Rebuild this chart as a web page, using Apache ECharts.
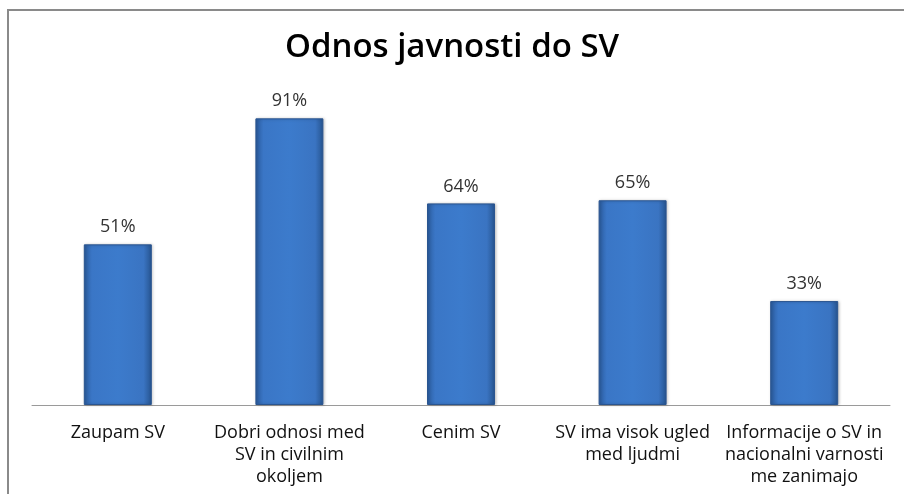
<!DOCTYPE html>
<html lang="sl">

<head>
    <meta charset="UTF-8">
    <title>Odnos javnosti do SV</title>
    <script src="https://cdn.jsdelivr.net/npm/echarts@6/dist/echarts.min.js"></script>
    <style>
        * {
            margin: 0;
            padding: 0;
        }
        body {
            background-color: #fff;
        }
        #box1 {
            width: 904px;
            height: 494px;
        }
    </style>
</head>

<body>
    <div id="box1"></div>
    <script>
        // podatki
        var categories = [
            'Zaupam SV',
            'Dobri odnosi med\nSV in civilnim\nokoljem',
            'Cenim SV',
            'SV ima visok ugled\nmed ljudmi',
            'Informacije o SV in\nnacionalni varnosti\nme zanimajo'
        ];
        var values = [51, 91, 64, 65, 33];

        var barColor = new echarts.graphic.LinearGradient(0, 0, 1, 0, [
            { offset: 0, color: '#2b5c9e' },
            { offset: 0.12, color: '#3a76c6' },
            { offset: 0.5, color: '#3c7bcc' },
            { offset: 0.88, color: '#3a74c2' },
            { offset: 1, color: '#26548f' }
        ]);

        var option = {
            animation: false,
            title: {
                text: 'Odnos javnosti do SV',
                left: 'center',
                top: 26,
                textStyle: {
                    fontFamily: 'Open Sans',
                    fontWeight: 600,
                    fontSize: 33,
                    color: '#000'
                }
            },
            graphic: [{
                type: 'rect',
                shape: { x: 8, y: 10, width: 1000, height: 1000 },
                style: { fill: 'none', stroke: '#8a8a8a', lineWidth: 2 },
                silent: true
            }],
            grid: {
                left: 32,
                right: 14,
                top: 90,
                bottom: 89
            },
            xAxis: {
                type: 'category',
                data: categories,
                axisLine: { lineStyle: { color: '#9a9a9a', width: 1 } },
                axisTick: { show: false },
                axisLabel: {
                    interval: 0,
                    margin: 17,
                    fontFamily: 'Open Sans',
                    fontSize: 18,
                    lineHeight: 22,
                    color: '#111'
                }
            },
            yAxis: {
                type: 'value',
                min: 0,
                max: 100,
                show: false
            },
            series: [{
                type: 'bar',
                data: values,
                barWidth: 68,
                itemStyle: {
                    color: barColor,
                    borderColor: '#2a5590',
                    borderWidth: 1,
                    shadowColor: 'rgba(0,0,0,0.25)',
                    shadowBlur: 3,
                    shadowOffsetX: 1
                },
                label: {
                    show: true,
                    position: 'top',
                    distance: 8,
                    formatter: '{c}%',
                    fontFamily: 'Open Sans',
                    fontSize: 18,
                    color: '#333'
                }
            }]
        };
        echarts.init(document.querySelector('#box1')).setOption(option);
    </script>
</body>

</html>
